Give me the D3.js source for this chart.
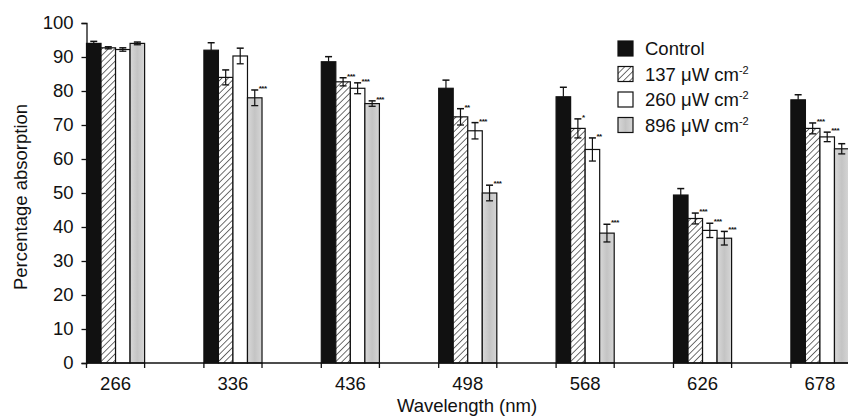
<!DOCTYPE html>
<html>
<head>
<meta charset="utf-8">
<script src="https://cdn.jsdelivr.net/npm/d3@7"></script>
<style>
  body { margin: 0; background: #fff; }
  svg { display: block; font-family: "Liberation Sans", Arial, sans-serif; }
</style>
</head>
<body>
<svg id="chart"></svg>
<script>
// wavelengths (nm)
const wavelengths = ['266', '336', '436', '498', '568', '626', '678'];
const seriesNames = ['Control', '137 μW cm', '260 μW cm', '896 μW cm'];
const seriesKeys = ['control', 'w137', 'w260', 'w896'];

// percentage absorption
const control = [94.0, 92.0, 88.6, 80.8, 78.3, 49.4, 77.4];
const w137 = [92.7, 84.0, 82.7, 72.4, 69.0, 42.5, 69.0];
const w260 = [92.2, 90.3, 80.8, 68.3, 62.8, 39.0, 66.5];
const w896 = [94.0, 78.0, 76.3, 50.0, 38.2, 36.7, 63.0];

// error bars (SE)
const controlErr = [0.6, 2.2, 1.5, 2.4, 2.8, 1.9, 1.5];
const w137Err = [0.3, 2.2, 1.2, 2.4, 2.8, 1.6, 1.6];
const w260Err = [0.5, 2.3, 1.6, 2.4, 3.4, 2.1, 1.4];
const w896Err = [0.4, 2.3, 0.8, 2.3, 2.6, 2.0, 1.5];

// significance marks (last one is cut off in the original)
const w137Sig = ['', '', '***', '**', '*', '***', '***'];
const w260Sig = ['', '', '***', '***', '**', '***', '***'];
const w896Sig = ['', '***', '***', '***', '***', '***', ''];

const yTicks = [0, 10, 20, 30, 40, 50, 60, 70, 80, 90, 100];

const values = { control, w137, w260, w896 };
const errs = { control: controlErr, w137: w137Err, w260: w260Err, w896: w896Err };
const sigs = { control: wavelengths.map(() => ''), w137: w137Sig, w260: w260Sig, w896: w896Sig };

const width = 848, height = 417;
const fs = 18.5;
const svg = d3.select('#chart').attr('width', width).attr('height', height);

// hatch pattern
const defs = svg.append('defs');
const pat = defs.append('pattern')
    .attr('id', 'hatch')
    .attr('patternUnits', 'userSpaceOnUse')
    .attr('width', 4.5).attr('height', 4.5)
    .attr('patternTransform', 'rotate(45)');
pat.append('rect').attr('width', 4.5).attr('height', 4.5).attr('fill', '#fff');
pat.append('line').attr('x1', 0).attr('y1', 0).attr('x2', 0).attr('y2', 4.5)
    .attr('stroke', '#222').attr('stroke-width', 1.3);

const grad = defs.append('linearGradient').attr('id', 'grey').attr('x1', 0).attr('x2', 1);
grad.append('stop').attr('offset', '0%').attr('stop-color', '#d8d8d8');
grad.append('stop').attr('offset', '50%').attr('stop-color', '#c4c4c4');
grad.append('stop').attr('offset', '100%').attr('stop-color', '#d6d6d6');

const fills = { control: '#111', w137: 'url(#hatch)', w260: '#fff', w896: 'url(#grey)' };

const x0 = 86.5, y0 = 363;
const x = d3.scaleBand().domain(wavelengths).range([x0, 849]).paddingInner(0.505).paddingOuter(0);
const xs = d3.scaleBand().domain(seriesKeys).range([0, x.bandwidth()]);
const y = d3.scaleLinear().domain([0, 100]).range([y0, 23]);

// bars
const groups = svg.append('g').selectAll('g').data(wavelengths).join('g')
    .attr('transform', d => `translate(${x(d)},0)`);

groups.selectAll('rect').data((d, i) => seriesKeys.map(k => ({ k, v: values[k][i] })))
    .join('rect')
    .attr('x', d => xs(d.k))
    .attr('y', d => y(d.v))
    .attr('width', xs.bandwidth())
    .attr('height', d => y0 - y(d.v))
    .attr('fill', d => fills[d.k])
    .attr('stroke', '#111')
    .attr('stroke-width', 1.2);

// error bars
const eb = groups.selectAll('g.err').data((d, i) => seriesKeys.map(k => ({ k, v: values[k][i], e: errs[k][i], s: sigs[k][i] })))
    .join('g').attr('class', 'err')
    .attr('transform', d => `translate(${xs(d.k) + xs.bandwidth() / 2},0)`);
eb.append('line')
    .attr('y1', d => y(d.v + d.e)).attr('y2', d => d.k === 'control' ? y(d.v) : y(d.v - d.e))
    .attr('stroke', '#111').attr('stroke-width', 1.2);
eb.append('line')
    .attr('x1', -3.5).attr('x2', 3.5)
    .attr('y1', d => y(d.v + d.e)).attr('y2', d => y(d.v + d.e))
    .attr('stroke', '#111').attr('stroke-width', 1.5);
eb.filter(d => d.k !== 'control').append('line')
    .attr('x1', -3.5).attr('x2', 3.5)
    .attr('y1', d => y(d.v - d.e)).attr('y2', d => y(d.v - d.e))
    .attr('stroke', '#111').attr('stroke-width', 1.3);
eb.append('text')
    .attr('x', 4)
    .attr('y', d => y(d.v + d.e) + 1)
    .attr('font-size', 8)
    .attr('font-weight', 'bold')
    .attr('letter-spacing', -0.5)
    .attr('fill', '#111')
    .text(d => d.s);

// y axis
const yAxis = svg.append('g')
    .attr('transform', `translate(${x0},0)`)
    .call(d3.axisLeft(y).tickValues(yTicks).tickSize(5).tickPadding(8));
yAxis.select('.domain').attr('stroke', '#111').attr('stroke-width', 1.3);
yAxis.selectAll('.tick line').attr('stroke', '#111').attr('stroke-width', 1.3);
yAxis.selectAll('text').attr('font-size', fs).attr('fill', '#111')
    .attr('font-family', '"Liberation Sans", Arial, sans-serif');

// x axis baseline and ticks at group edges
svg.append('line')
    .attr('x1', x0).attr('x2', width).attr('y1', y0).attr('y2', y0)
    .attr('stroke', '#111').attr('stroke-width', 1.3);
const edges = [];
wavelengths.forEach(w => { edges.push(x(w)); edges.push(x(w) + x.bandwidth()); });
svg.append('g').selectAll('line').data(edges).join('line')
    .attr('x1', d => d).attr('x2', d => d).attr('y1', y0).attr('y2', y0 + 5)
    .attr('stroke', '#111').attr('stroke-width', 1.3);
svg.append('g').selectAll('text').data(wavelengths).join('text')
    .attr('x', d => x(d) + x.bandwidth() / 2)
    .attr('y', y0 + 27)
    .attr('text-anchor', 'middle')
    .attr('font-size', fs).attr('fill', '#111')
    .text(d => d);

// axis titles
svg.append('text')
    .attr('x', 467).attr('y', 412)
    .attr('text-anchor', 'middle')
    .attr('font-size', fs).attr('fill', '#111')
    .text('Wavelength (nm)');
svg.append('text')
    .attr('transform', 'translate(27,197) rotate(-90)')
    .attr('text-anchor', 'middle')
    .attr('font-size', fs).attr('fill', '#111')
    .text('Percentage absorption');

// legend
const legend = svg.append('g').attr('transform', 'translate(618,41)');
const items = legend.selectAll('g').data(seriesKeys).join('g')
    .attr('transform', (d, i) => `translate(0,${i * 25.5})`);
items.append('rect')
    .attr('width', 15).attr('height', 15)
    .attr('fill', d => fills[d])
    .attr('stroke', '#111').attr('stroke-width', 1.2);
const lt = items.append('text')
    .attr('x', 27).attr('y', 14)
    .attr('font-size', fs).attr('fill', '#111');
lt.append('tspan').text((d, i) => seriesNames[i]);
lt.filter((d, i) => i > 0).append('tspan')
    .attr('dy', -7).attr('font-size', 11).text('-2');
</script>
</body>
</html>
